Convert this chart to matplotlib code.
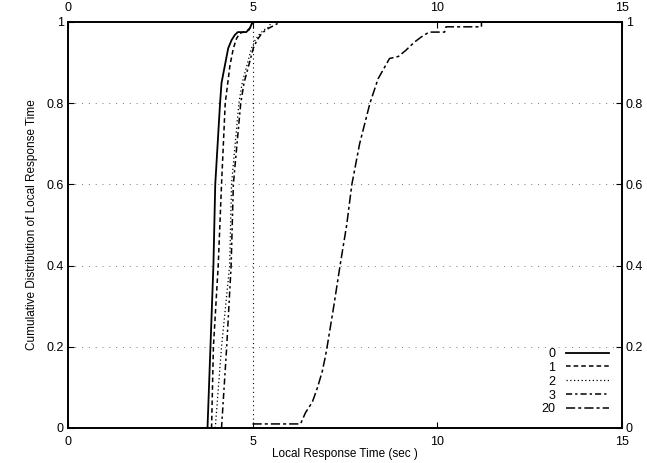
import matplotlib
matplotlib.use("Agg")
import matplotlib.pyplot as plt

plt.rcParams['font.family'] = ['Liberation Sans', 'DejaVu Sans']

# response time (sec) vs cumulative fraction
t0 = [3.78, 3.86, 3.94, 3.99, 4.12, 4.16, 4.34, 4.43, 4.52, 4.6, 4.83, 4.93, 5.0, 15.0]
c0 = [0.0, 0.2, 0.4, 0.6, 0.8, 0.85, 0.935, 0.955, 0.968, 0.975, 0.975, 0.985, 1.0, 1.0]

t1 = [3.89, 3.94, 4.07, 4.16, 4.26, 4.39, 4.48, 4.57, 4.66, 4.9, 5.0]
c1 = [0.0, 0.2, 0.4, 0.6, 0.8, 0.894, 0.935, 0.96, 0.972, 0.98, 1.0]

t2 = [3.99, 4.16, 4.38, 4.43, 4.63, 4.72, 4.85, 4.97, 5.07, 5.17, 5.3, 5.45, 5.5]
c2 = [0.0, 0.2, 0.4, 0.6, 0.8, 0.85, 0.894, 0.935, 0.955, 0.968, 0.98, 0.988, 1.0]

t3 = [4.16, 4.3, 4.42, 4.48, 4.68, 4.77, 4.9, 5.02, 5.12, 5.22, 5.35, 5.55, 5.76]
c3 = [0.0, 0.2, 0.4, 0.6, 0.8, 0.85, 0.894, 0.935, 0.955, 0.968, 0.98, 0.99, 1.0]

t20 = [5.0, 6.3, 6.43, 6.62, 6.76, 6.89, 6.97, 7.02, 7.2, 7.37, 7.55, 7.69, 7.9,
       8.18, 8.4, 8.71, 8.95, 9.15, 9.38, 9.57, 9.78, 10.2, 10.24, 11.2, 11.2]
c20 = [0.01, 0.01, 0.037, 0.064, 0.10, 0.14, 0.175, 0.2, 0.3, 0.4, 0.5, 0.6, 0.7,
       0.8, 0.86, 0.91, 0.915, 0.93, 0.95, 0.963, 0.975, 0.975, 0.988, 0.988, 1.0]

# vertical dotted marker at 5 sec
ref_t = [5.0, 5.0]
ref_c = [0.0, 1.0]

xticks = [0, 5, 10, 15]
yticks = [0, 0.2, 0.4, 0.6, 0.8, 1]
ylabels = ["0", "0.2", "0.4", "0.6", "0.8", "1"]

fig = plt.figure(figsize=(6.47, 4.63), dpi=100)
ax = fig.add_axes([0.105, 0.0756, 0.856, 0.877])

ax.plot(t0, c0, color='black', lw=1.3, ls='-', label='0')
ax.plot(t1, c1, color='black', lw=1.1, ls=(0, (3, 2)), label='1')
ax.plot(t2, c2, color='black', lw=0.9, ls=(0, (1, 2)), label='2')
ax.plot(t3, c3, color='black', lw=1.1, ls=(0, (4, 2, 1.5, 2)), label='3')
ax.plot(t20, c20, color='black', lw=1.1, ls=(0, (6, 2, 2, 2)), label='20')
ax.plot(ref_t, ref_c, color='black', lw=0.8, ls=(0, (1, 3)))

for y in yticks[1:-1]:
    ax.axhline(y, color='#777777', lw=0.7, ls=(0, (1, 6)), zorder=0)

ax.set_xlim(0, 15)
ax.set_ylim(0, 1)
ax.set_xticks(xticks)
ax.set_yticks(yticks)
ax.set_yticklabels(ylabels)
ax.tick_params(direction='in', top=True, right=True, labeltop=True,
               labelright=True, labelsize=9, length=4, pad=3)
ax.tick_params(axis='x', pad=6)
for s in ax.spines.values():
    s.set_linewidth(1.4)

ax.set_xlabel("Local Response Time (sec )", fontsize=8.5, labelpad=0)
ax.set_ylabel("Cumulative Distribution of Local Response Time", fontsize=8.5, labelpad=6)

ax.legend(loc='lower right', frameon=False, markerfirst=False, fontsize=9,
          handlelength=3.5, labelspacing=0.15, borderaxespad=0.6)

fig.savefig("out.png", dpi=100)
